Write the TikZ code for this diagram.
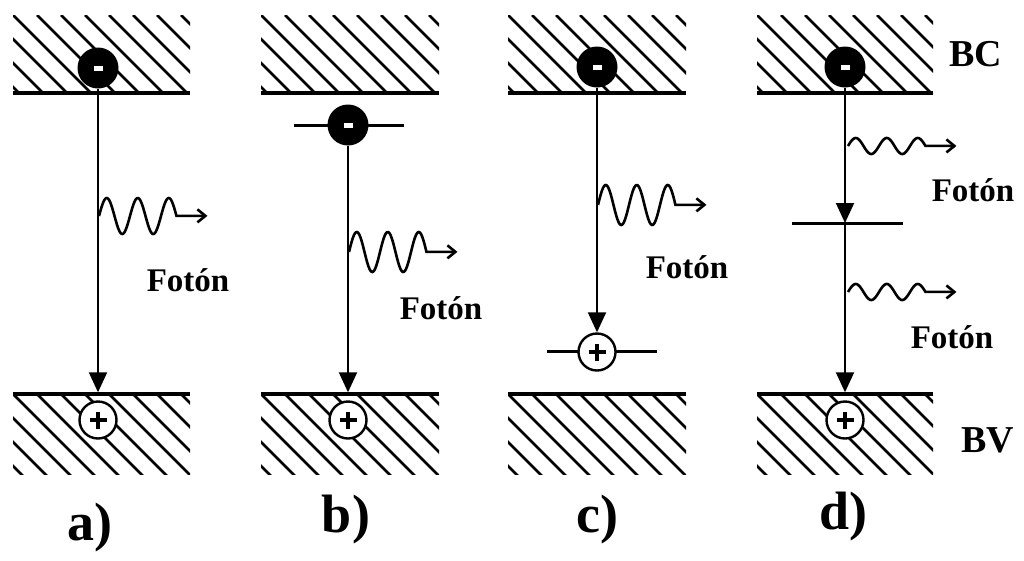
\documentclass[tikz,border=0pt]{standalone}
\usepackage{fontspec}
\setmainfont{Liberation Serif}
\usetikzlibrary{arrows.meta,positioning}

\tikzset{
  edge/.style={line width=4pt},
  hatch/.style={line width=2.8pt},
  level/.style={line width=3pt},
  elec/.style={circle, fill=black, minimum size=41pt, inner sep=0pt},
  hole/.style={circle, draw, fill=white, line width=2.4pt, minimum size=37pt, inner sep=0pt},
  fall/.style={line width=2pt, -{Triangle[length=20pt,width=18pt]}},
  photon/.style={line width=2.6pt, -{Straight Barb[length=8pt,width=13pt]}},
  lbl/.style={font=\fontsize{33}{33}\selectfont\bfseries},
  panel/.style={font=\fontsize{54}{54}\selectfont\bfseries},
}

% hatched band: x1, x2, top, bottom
\newcommand{\band}[4]{%
  \begin{scope}
    \clip (#1,#3) rectangle (#2,#4);
    \foreach \s in {-120,-96,...,200}
      \draw[hatch] (#1+\s,#3) -- ++(110,110);
  \end{scope}
}

% photon: x0, y centre, amplitude
\newcommand{\wave}[3]{%
  \draw[photon] plot[domain=0:2.5, samples=90, smooth] ({#1+31*\x},{#2-#3*sin(360*\x)}) -- ++(31,0);
}

\newcommand{\minus}{\textcolor{white}{\rule{9pt}{5pt}}}
\newcommand{\plus}{\makebox[0pt]{\rule[-1.6pt]{17pt}{3.2pt}}\makebox[0pt]{\rule[-8.5pt]{3.2pt}{17pt}}}

\begin{document}
\begin{tikzpicture}[x=1pt, y=-1pt, line cap=butt]

\useasboundingbox (0,0) rectangle (1024,560);

% conduction and valence bands
\foreach \xa/\xb in {13/190, 261/439, 508/686, 757/933} {
    \band{\xa}{\xb}{15}{93}
    \draw[edge] (\xa,93) -- (\xb,93);
    \band{\xa}{\xb}{394}{474}
    \draw[edge] (\xa,394) -- (\xb,394);
}

% a)
\node[elec] (ea) at (98,68) {\minus};
\node[hole] (ha) at (98,420) {\plus};
\draw[fall, shorten >=8pt] (ea) -- (ha);
\wave{99}{216}{18}
\node[lbl] (fa) at (188,280) {Fotón};
\node[panel] (pa) at (90,528) {a)};

% b)
\draw[level] (294,125) -- (404,125);
\node[elec] (eb) at (348,125) {\minus};
\node[hole] (hb) at (348,420) {\plus};
\draw[fall, shorten >=8pt] (eb) -- (hb);
\wave{349}{252}{20}
\node[lbl] (fb) at (441,308) {Fotón};
\node[panel] (pb) at (346,520) {b)};

% c)
\node[elec] (ec) at (597,67) {\minus};
\draw[level] (547,351) -- (657,351);
\node[hole] (hc) at (597,352) {\plus};
\draw[fall] (ec) -- (hc);
\wave{598}{205}{20}
\node[lbl] (fc) at (687,267) {Fotón};
\node[panel] (pc) at (597,520) {c)};

% d)
\node[elec] (ed) at (845,67) {\minus};
\coordinate (ld) at (845,223);
\draw[level] (792,223) -- (903,223);
\node[hole] (hd) at (845,420) {\plus};
\draw[fall] (ed) -- (ld);
\draw[fall, shorten >=8pt] (ld) -- (hd);
\wave{848}{146}{8}
\wave{848}{292}{8}
\node[lbl] (fd1) at (973,190) {Fotón};
\node[lbl] (fd2) at (952,337) {Fotón};
\node[panel] (pd) at (843,517) {d)};

\node[lbl, font=\fontsize{38}{38}\selectfont\bfseries] (bc) at (976,54) {BC};
\node[lbl, font=\fontsize{38}{38}\selectfont\bfseries] (bv) at (988,440) {BV};

\end{tikzpicture}
\end{document}
